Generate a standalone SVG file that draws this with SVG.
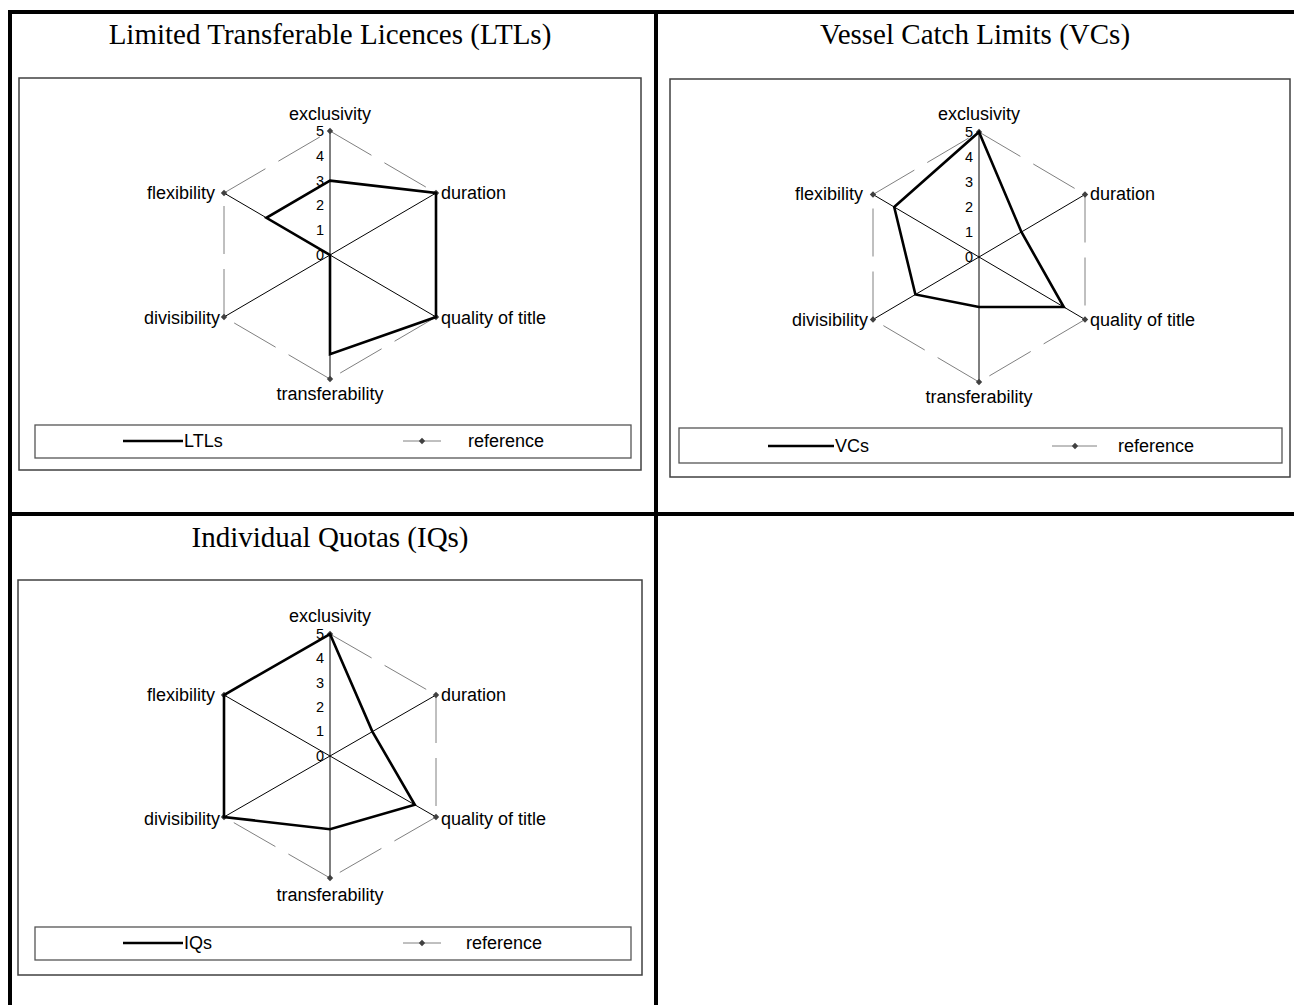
<svg xmlns="http://www.w3.org/2000/svg" width="1294" height="1005" viewBox="0 0 1294 1005">
  <style>
    .title { font-family: "Liberation Serif", "Times New Roman", serif; font-size: 29px; fill: #000; text-anchor: middle; }
    .lbl { font-family: "Liberation Sans", Arial, sans-serif; font-size: 18px; fill: #000; }
    .tick { font-family: "Liberation Sans", Arial, sans-serif; font-size: 14.5px; fill: #000; text-anchor: end; }
    .leg { font-family: "Liberation Sans", Arial, sans-serif; font-size: 18px; fill: #000; }
    .frame { fill: #fff; stroke: #404040; stroke-width: 1.5; }
    .legbox { fill: #fff; stroke: #555; stroke-width: 1.3; }
    .spoke { stroke: #000; stroke-width: 1; fill: none; }
    .ref { stroke: #808080; stroke-width: 1; fill: none; stroke-dasharray: 48 15; }
    .series { stroke: #000; stroke-width: 2.6; fill: none; stroke-linejoin: miter; }
    .grid { stroke: #000; stroke-width: 4; fill: none; }
  </style>
  <defs>
    <path id="dm" d="M0,-3.2 L3.2,0 L0,3.2 L-3.2,0 Z" fill="#404040"/>
  </defs>

  <rect width="1294" height="1005" fill="#fff"/>

  <!-- table rules -->
  <g id="table">
    <line class="grid" x1="8" y1="12" x2="1294" y2="12"/>
    <line class="grid" x1="10" y1="10" x2="10" y2="1005"/>
    <line class="grid" x1="656" y1="10" x2="656" y2="1005"/>
    <line class="grid" x1="10" y1="514" x2="1294" y2="514"/>
  </g>

  <!-- Chart 1: LTLs -->
  <g id="chart-ltl">
    <text class="title" x="330" y="44">Limited Transferable Licences (LTLs)</text>
    <rect class="frame" x="19" y="78" width="622" height="392"/>
    <g class="spokes">
      <line class="spoke" x1="330" y1="131" x2="330" y2="379"/>
      <line class="spoke" x1="436" y1="193" x2="224" y2="317"/>
      <line class="spoke" x1="224" y1="193" x2="436" y2="317"/>
    </g>
    <path class="ref" d="M330,131 L436,193 M436,193 L436,317 M436,317 L330,379 M330,379 L224,317 M224,317 L224,193 M224,193 L330,131"/>
    <g>
      <use href="#dm" x="330" y="131"/><use href="#dm" x="436" y="193"/><use href="#dm" x="436" y="317"/>
      <use href="#dm" x="330" y="379"/><use href="#dm" x="224" y="317"/><use href="#dm" x="224" y="193"/>
    </g>
    <polygon class="series" points="330,180.6 436,193 436,317 330,354.2 330,255 266.4,217.8"/>
    <g class="ticks">
      <text class="tick" x="324" y="136">5</text>
      <text class="tick" x="324" y="161">4</text>
      <text class="tick" x="324" y="186">3</text>
      <text class="tick" x="324" y="210">2</text>
      <text class="tick" x="324" y="235">1</text>
      <text class="tick" x="324" y="260">0</text>
    </g>
    <text class="lbl" x="330" y="120" text-anchor="middle">exclusivity</text>
    <text class="lbl" x="441" y="199">duration</text>
    <text class="lbl" x="441" y="324">quality of title</text>
    <text class="lbl" x="330" y="400" text-anchor="middle">transferability</text>
    <text class="lbl" x="215" y="199" text-anchor="end">flexibility</text>
    <text class="lbl" x="220" y="324" text-anchor="end">divisibility</text>
    <g class="legend">
      <rect class="legbox" x="35" y="425" width="596" height="33"/>
      <line x1="123" y1="441" x2="183" y2="441" stroke="#000" stroke-width="2.6"/>
      <text class="leg" x="184" y="447">LTLs</text>
      <line x1="403" y1="441" x2="441" y2="441" stroke="#808080" stroke-width="1"/>
      <use href="#dm" x="422" y="441"/>
      <text class="leg" x="468" y="447">reference</text>
    </g>
  </g>

  <!-- Chart 2: VCs -->
  <g id="chart-vc">
    <text class="title" x="975" y="44">Vessel Catch Limits (VCs)</text>
    <rect class="frame" x="670" y="79" width="620" height="398"/>
    <g class="spokes">
      <line class="spoke" x1="979" y1="132" x2="979" y2="382"/>
      <line class="spoke" x1="1085" y1="194.5" x2="873" y2="319.5"/>
      <line class="spoke" x1="873" y1="194.5" x2="1085" y2="319.5"/>
    </g>
    <path class="ref" d="M979,132 L1085,194.5 M1085,194.5 L1085,319.5 M1085,319.5 L979,382 M979,382 L873,319.5 M873,319.5 L873,194.5 M873,194.5 L979,132"/>
    <g>
      <use href="#dm" x="979" y="132"/><use href="#dm" x="1085" y="194.5"/><use href="#dm" x="1085" y="319.5"/>
      <use href="#dm" x="979" y="382"/><use href="#dm" x="873" y="319.5"/><use href="#dm" x="873" y="194.5"/>
    </g>
    <polygon class="series" points="979,132 1021.4,232 1063.8,307 979,307 915.4,294.5 894.2,207"/>
    <g class="ticks">
      <text class="tick" x="973" y="137">5</text>
      <text class="tick" x="973" y="162">4</text>
      <text class="tick" x="973" y="187">3</text>
      <text class="tick" x="973" y="212">2</text>
      <text class="tick" x="973" y="237">1</text>
      <text class="tick" x="973" y="262">0</text>
    </g>
    <text class="lbl" x="979" y="120" text-anchor="middle">exclusivity</text>
    <text class="lbl" x="1090" y="200">duration</text>
    <text class="lbl" x="1090" y="326">quality of title</text>
    <text class="lbl" x="979" y="403" text-anchor="middle">transferability</text>
    <text class="lbl" x="863" y="200" text-anchor="end">flexibility</text>
    <text class="lbl" x="868" y="326" text-anchor="end">divisibility</text>
    <g class="legend">
      <rect class="legbox" x="679" y="428" width="603" height="35"/>
      <line x1="768" y1="446" x2="834" y2="446" stroke="#000" stroke-width="2.6"/>
      <text class="leg" x="835" y="452">VCs</text>
      <line x1="1052" y1="446" x2="1097" y2="446" stroke="#808080" stroke-width="1"/>
      <use href="#dm" x="1075" y="446"/>
      <text class="leg" x="1118" y="452">reference</text>
    </g>
  </g>

  <!-- Chart 3: IQs -->
  <g id="chart-iq">
    <text class="title" x="330" y="547">Individual Quotas (IQs)</text>
    <rect class="frame" x="18" y="580" width="624" height="395"/>
    <g class="spokes">
      <line class="spoke" x1="330" y1="634" x2="330" y2="878"/>
      <line class="spoke" x1="436" y1="695" x2="224" y2="817"/>
      <line class="spoke" x1="224" y1="695" x2="436" y2="817"/>
    </g>
    <path class="ref" d="M330,634 L436,695 M436,695 L436,817 M436,817 L330,878 M330,878 L224,817 M224,817 L224,695 M224,695 L330,634"/>
    <g>
      <use href="#dm" x="330" y="634"/><use href="#dm" x="436" y="695"/><use href="#dm" x="436" y="817"/>
      <use href="#dm" x="330" y="878"/><use href="#dm" x="224" y="817"/><use href="#dm" x="224" y="695"/>
    </g>
    <polygon class="series" points="330,634 372.4,731.6 414.8,804.8 330,829.2 224,817 224,695"/>
    <g class="ticks">
      <text class="tick" x="324" y="639">5</text>
      <text class="tick" x="324" y="663">4</text>
      <text class="tick" x="324" y="688">3</text>
      <text class="tick" x="324" y="712">2</text>
      <text class="tick" x="324" y="736">1</text>
      <text class="tick" x="324" y="761">0</text>
    </g>
    <text class="lbl" x="330" y="622" text-anchor="middle">exclusivity</text>
    <text class="lbl" x="441" y="701">duration</text>
    <text class="lbl" x="441" y="825">quality of title</text>
    <text class="lbl" x="330" y="901" text-anchor="middle">transferability</text>
    <text class="lbl" x="215" y="701" text-anchor="end">flexibility</text>
    <text class="lbl" x="220" y="825" text-anchor="end">divisibility</text>
    <g class="legend">
      <rect class="legbox" x="35" y="927" width="596" height="33"/>
      <line x1="123" y1="943" x2="183" y2="943" stroke="#000" stroke-width="2.6"/>
      <text class="leg" x="184" y="949">IQs</text>
      <line x1="403" y1="943" x2="441" y2="943" stroke="#808080" stroke-width="1"/>
      <use href="#dm" x="422" y="943"/>
      <text class="leg" x="466" y="949">reference</text>
    </g>
  </g>
</svg>
